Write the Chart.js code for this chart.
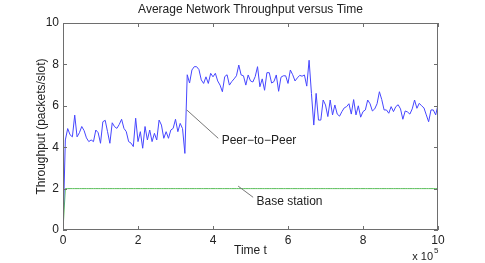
<!DOCTYPE html>
<html lang="en">
<head>
    <meta charset="UTF-8">
    <title>Average Network Throughput versus Time</title>
    <script src="https://cdn.jsdelivr.net/npm/chart.js"></script>
    <style>
        body { margin: 0; background: #fff; }
        .wrap { width: 485px; height: 263px; position: relative; }
    </style>
</head>
<body>
    <div class="wrap"><canvas id="chart"></canvas></div>
    <script>
        // sample interval of the simulation (slots)
        const sampleStep = 6250;

        // average throughput, peer-to-peer (packets/slot)
        const peerToPeer = [
            0, 4.35, 4.9, 4.6, 4.5, 5.55, 4.5, 4.7, 5.0, 4.8,
            4.45, 4.27, 4.35, 4.27, 4.83, 4.7, 4.19, 5.23, 5.3, 4.75,
            4.19, 5.18, 4.99, 4.91, 5.1, 5.35, 4.91, 4.75, 4.27, 4.2,
            4.03, 5.4, 4.27, 4.75, 3.95, 5.0, 4.35, 4.83, 4.27, 4.67,
            4.35, 5.31, 5.07, 4.43, 4.75, 4.43, 4.83, 4.91, 5.35, 4.75,
            5.15, 4.9, 3.7, 7.5, 7.1, 7.73, 7.89, 7.89, 7.75, 7.25,
            7.08, 7.4, 7.08, 7.57, 7.4, 7.57, 7.2, 7.0, 6.68, 7.41,
            7.5, 7.0, 7.17, 7.3, 7.45, 7.97, 7.49, 7.45, 7.0, 7.49,
            7.2, 7.15, 7.41, 7.89, 6.92, 7.3, 6.75, 7.6, 7.6, 7.1,
            7.17, 7.49, 6.7, 7.38, 7.45, 7.45, 7.08, 7.73, 7.5, 7.2,
            7.35, 7.47, 7.43, 7.49, 6.95, 8.2, 6.6, 5.07, 6.6, 5.31,
            5.31, 6.28, 6.04, 5.48, 6.28, 5.56, 6.04, 5.6, 5.5, 5.72,
            5.9, 5.96, 6.1, 5.6, 6.3, 5.56, 6.0, 5.45, 5.72, 5.8,
            6.28, 6.1, 5.75, 5.85, 6.1, 6.68, 6.3, 5.8, 5.8, 5.64,
            5.96, 5.72, 5.96, 6.05, 5.85, 5.35, 5.75, 5.7, 5.6, 5.85,
            6.28, 5.88, 6.12, 6.0, 5.9, 5.56, 5.23, 5.8, 5.8, 5.56,
            6.04
        ];

        // average throughput, base station (packets/slot)
        const baseStation = peerToPeer.map((_, i) => i === 0 ? 0 : 2.0);

        const times = peerToPeer.map((_, i) => i * sampleStep);

        const xTicks = [0, 2e5, 4e5, 6e5, 8e5, 10e5];
        const yTicks = [0, 2, 4, 6, 8, 10];

        // text labels with leader lines, in data units
        const labels = [
            { text: 'Peer\u2212to\u2212Peer', from: [3.30e5, 5.8], to: [4.14e5, 4.43], at: [4.23e5, 4.3] },
            { text: 'Base station', from: [4.67e5, 2.12], to: [5.07e5, 1.58], at: [5.16e5, 1.35] }
        ];

        const FONT = 'Helvetica, "Liberation Sans", Arial, sans-serif';
        const TEXT = '#222';
        const BOX = '#6e6e6e';

        const framePlugin = {
            id: 'frame',
            afterDraw(chart) {
                const { ctx, chartArea: a, scales } = chart;
                const x = scales.x, y = scales.y;
                ctx.save();
                ctx.strokeStyle = BOX;
                ctx.lineWidth = 1;
                ctx.strokeRect(a.left + 0.5, a.top + 0.5, a.right - a.left - 1, a.bottom - a.top - 1);
                const tl = 4;
                ctx.beginPath();
                xTicks.forEach(v => {
                    const px = Math.round(x.getPixelForValue(v)) + 0.5;
                    ctx.moveTo(px, a.bottom); ctx.lineTo(px, a.bottom - tl);
                    ctx.moveTo(px, a.top); ctx.lineTo(px, a.top + tl);
                });
                yTicks.forEach(v => {
                    const py = Math.round(y.getPixelForValue(v)) + 0.5;
                    ctx.moveTo(a.left, py); ctx.lineTo(a.left + tl, py);
                    ctx.moveTo(a.right, py); ctx.lineTo(a.right - tl, py);
                });
                ctx.stroke();

                // annotations
                ctx.strokeStyle = '#777';
                ctx.fillStyle = TEXT;
                ctx.font = '12px ' + FONT;
                ctx.textBaseline = 'middle';
                ctx.textAlign = 'left';
                labels.forEach(l => {
                    ctx.beginPath();
                    ctx.moveTo(x.getPixelForValue(l.from[0]), y.getPixelForValue(l.from[1]));
                    ctx.lineTo(x.getPixelForValue(l.to[0]), y.getPixelForValue(l.to[1]));
                    ctx.stroke();
                    ctx.fillText(l.text, x.getPixelForValue(l.at[0]), y.getPixelForValue(l.at[1]));
                });

                // title
                ctx.textAlign = 'center';
                ctx.font = '12px ' + FONT;
                ctx.fillText('Average Network Throughput versus Time', (a.left + a.right) / 2, 10);

                // exponent
                ctx.textAlign = 'right';
                ctx.font = '11px ' + FONT;
                ctx.fillText('x 10', a.right - 5, 257);
                ctx.textAlign = 'left';
                ctx.font = '8px ' + FONT;
                ctx.fillText('5', a.right - 4, 251);
                ctx.restore();
            }
        };

        new Chart(document.getElementById('chart'), {
            type: 'line',
            data: {
                datasets: [
                    {
                        label: 'Peer-to-Peer',
                        data: times.map((t, i) => ({ x: t, y: peerToPeer[i] })),
                        borderColor: 'rgb(70,70,255)',
                        borderWidth: 1,
                        pointRadius: 0,
                        tension: 0
                    },
                    {
                        label: 'Base station',
                        data: times.map((t, i) => ({ x: t, y: baseStation[i] })),
                        borderColor: 'rgb(90,190,90)',
                        borderWidth: 1,
                        pointRadius: 0,
                        tension: 0
                    }
                ]
            },
            options: {
                responsive: true,
                maintainAspectRatio: false,
                animation: false,
                layout: { padding: { left: 0, right: 47, top: 23, bottom: 0 } },
                plugins: { legend: { display: false }, tooltip: { enabled: false } },
                scales: {
                    x: {
                        type: 'linear',
                        min: 0, max: 1e6,
                        afterBuildTicks: s => { s.ticks = xTicks.map(v => ({ value: v })); },
                        afterFit: s => { s.height = 33; },
                        grid: { display: false, drawTicks: false },
                        border: { display: false },
                        ticks: {
                            padding: 3,
                            color: TEXT,
                            font: { family: FONT, size: 12 },
                            maxRotation: 0,
                            callback: v => v / 1e5
                        },
                        title: {
                            display: true, text: 'Time t', color: TEXT,
                            font: { family: FONT, size: 12 },
                            padding: { top: 0, bottom: 5 }
                        }
                    },
                    y: {
                        min: 0, max: 10,
                        afterBuildTicks: s => { s.ticks = yTicks.map(v => ({ value: v })); },
                        afterFit: s => { s.width = 63; },
                        grid: { display: false, drawTicks: false },
                        border: { display: false },
                        ticks: {
                            padding: 4,
                            color: TEXT,
                            font: { family: FONT, size: 12 }
                        },
                        title: {
                            display: true, text: 'Throughput (packets/slot)', color: TEXT,
                            font: { family: FONT, size: 12 },
                            padding: { top: 34, bottom: 0 }
                        }
                    }
                }
            },
            plugins: [framePlugin]
        });
    </script>
</body>
</html>
